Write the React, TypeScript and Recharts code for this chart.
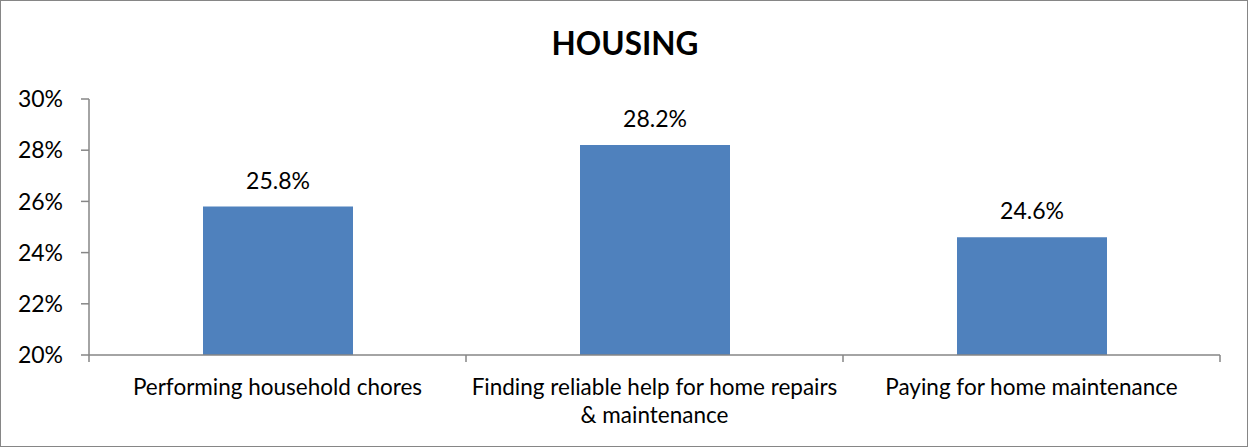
import { BarChart, Bar, XAxis, YAxis, LabelList } from "recharts";

const categories = [
  "Performing household chores",
  "Finding reliable help for home repairs & maintenance",
  "Paying for home maintenance",
];
const values = [25.8, 28.2, 24.6];
const yTicks = [20, 22, 24, 26, 28, 30];

const data = categories.map((name, i) => ({ name, value: values[i] }));

const FONT = "Lato, 'Open Sans', sans-serif";
const AXIS = "#868686";

// greedy wrap, roughly what Excel does for these labels
const wrap = (s: string, max: number) => {
  const lines: string[] = [];
  let cur = "";
  s.split(" ").forEach((w) => {
    if (cur && (cur + " " + w).length > max) {
      lines.push(cur);
      cur = w;
    } else {
      cur = cur ? cur + " " + w : w;
    }
  });
  if (cur) lines.push(cur);
  return lines;
};

const CategoryTick = (props: any) => {
  const { x, y, payload, index, visibleTicksCount } = props;
  const half = payload.offset ?? 0;
  const top = y - 8; // tick y comes in below the axis by tickSize + tickMargin
  const lines = wrap(String(payload.value), 38);
  const last = index === (visibleTicksCount ?? categories.length) - 1;
  return (
    <g>
      <line x1={x - half} x2={x - half} y1={top} y2={top + 7} stroke={AXIS} strokeWidth={1.5} />
      {last && <line x1={x + half} x2={x + half} y1={top} y2={top + 7} stroke={AXIS} strokeWidth={1.5} />}
      <text x={x} y={top + 40} textAnchor="middle" fontSize={22.5} fontFamily={FONT} fill="#000">
        {lines.map((l, i) => (
          <tspan key={i} x={x} dy={i === 0 ? 0 : 28}>
            {l}
          </tspan>
        ))}
      </text>
    </g>
  );
};

const App = () => {
  return (
    <div style={{ position: "absolute", left: 0, top: 0, width: 1249, height: 448, background: "#fff" }}>
      <div
        style={{
          position: "absolute",
          left: 0,
          top: 0,
          width: 1248,
          height: 447,
          border: `1.5px solid ${AXIS}`,
          boxSizing: "border-box",
        }}
      />
      <svg width={1249} height={80} style={{ position: "absolute", left: 0, top: 0 }}>
        <text x={625} y={55} textAnchor="middle" fontFamily={FONT} fontWeight="bold" fontSize={31.5} fill="#000">
          HOUSING
        </text>
      </svg>
      <div style={{ position: "absolute", left: 0, top: 0 }}>
        <BarChart width={1249} height={448} data={data} margin={{ top: 99, right: 29, bottom: 0, left: 0 }}>
          <XAxis
            dataKey="name"
            height={93}
            tickLine={false}
            axisLine={{ stroke: AXIS, strokeWidth: 1.5 }}
            tick={(p: any) => <CategoryTick {...p} />}
            interval={0}
          />
          <YAxis
            width={89}
            domain={[20, 30]}
            ticks={yTicks}
            tickSize={8}
            tickMargin={18}
            tickFormatter={(v: number) => `${v}%`}
            axisLine={{ stroke: AXIS, strokeWidth: 1.5 }}
            tickLine={{ stroke: AXIS, strokeWidth: 1.5 }}
            tick={{ fill: "#000", fontSize: 23, fontFamily: FONT }}
            allowDataOverflow
          />
          <Bar dataKey="value" fill="#4F81BD" barSize={150} isAnimationActive={false}>
            <LabelList
              dataKey="value"
              position="top"
              offset={18}
              formatter={(v: any) => `${Number(v).toFixed(1)}%`}
              fill="#000"
              fontSize={23}
              fontFamily={FONT}
            />
          </Bar>
        </BarChart>
      </div>
    </div>
  );
};

export default App;
